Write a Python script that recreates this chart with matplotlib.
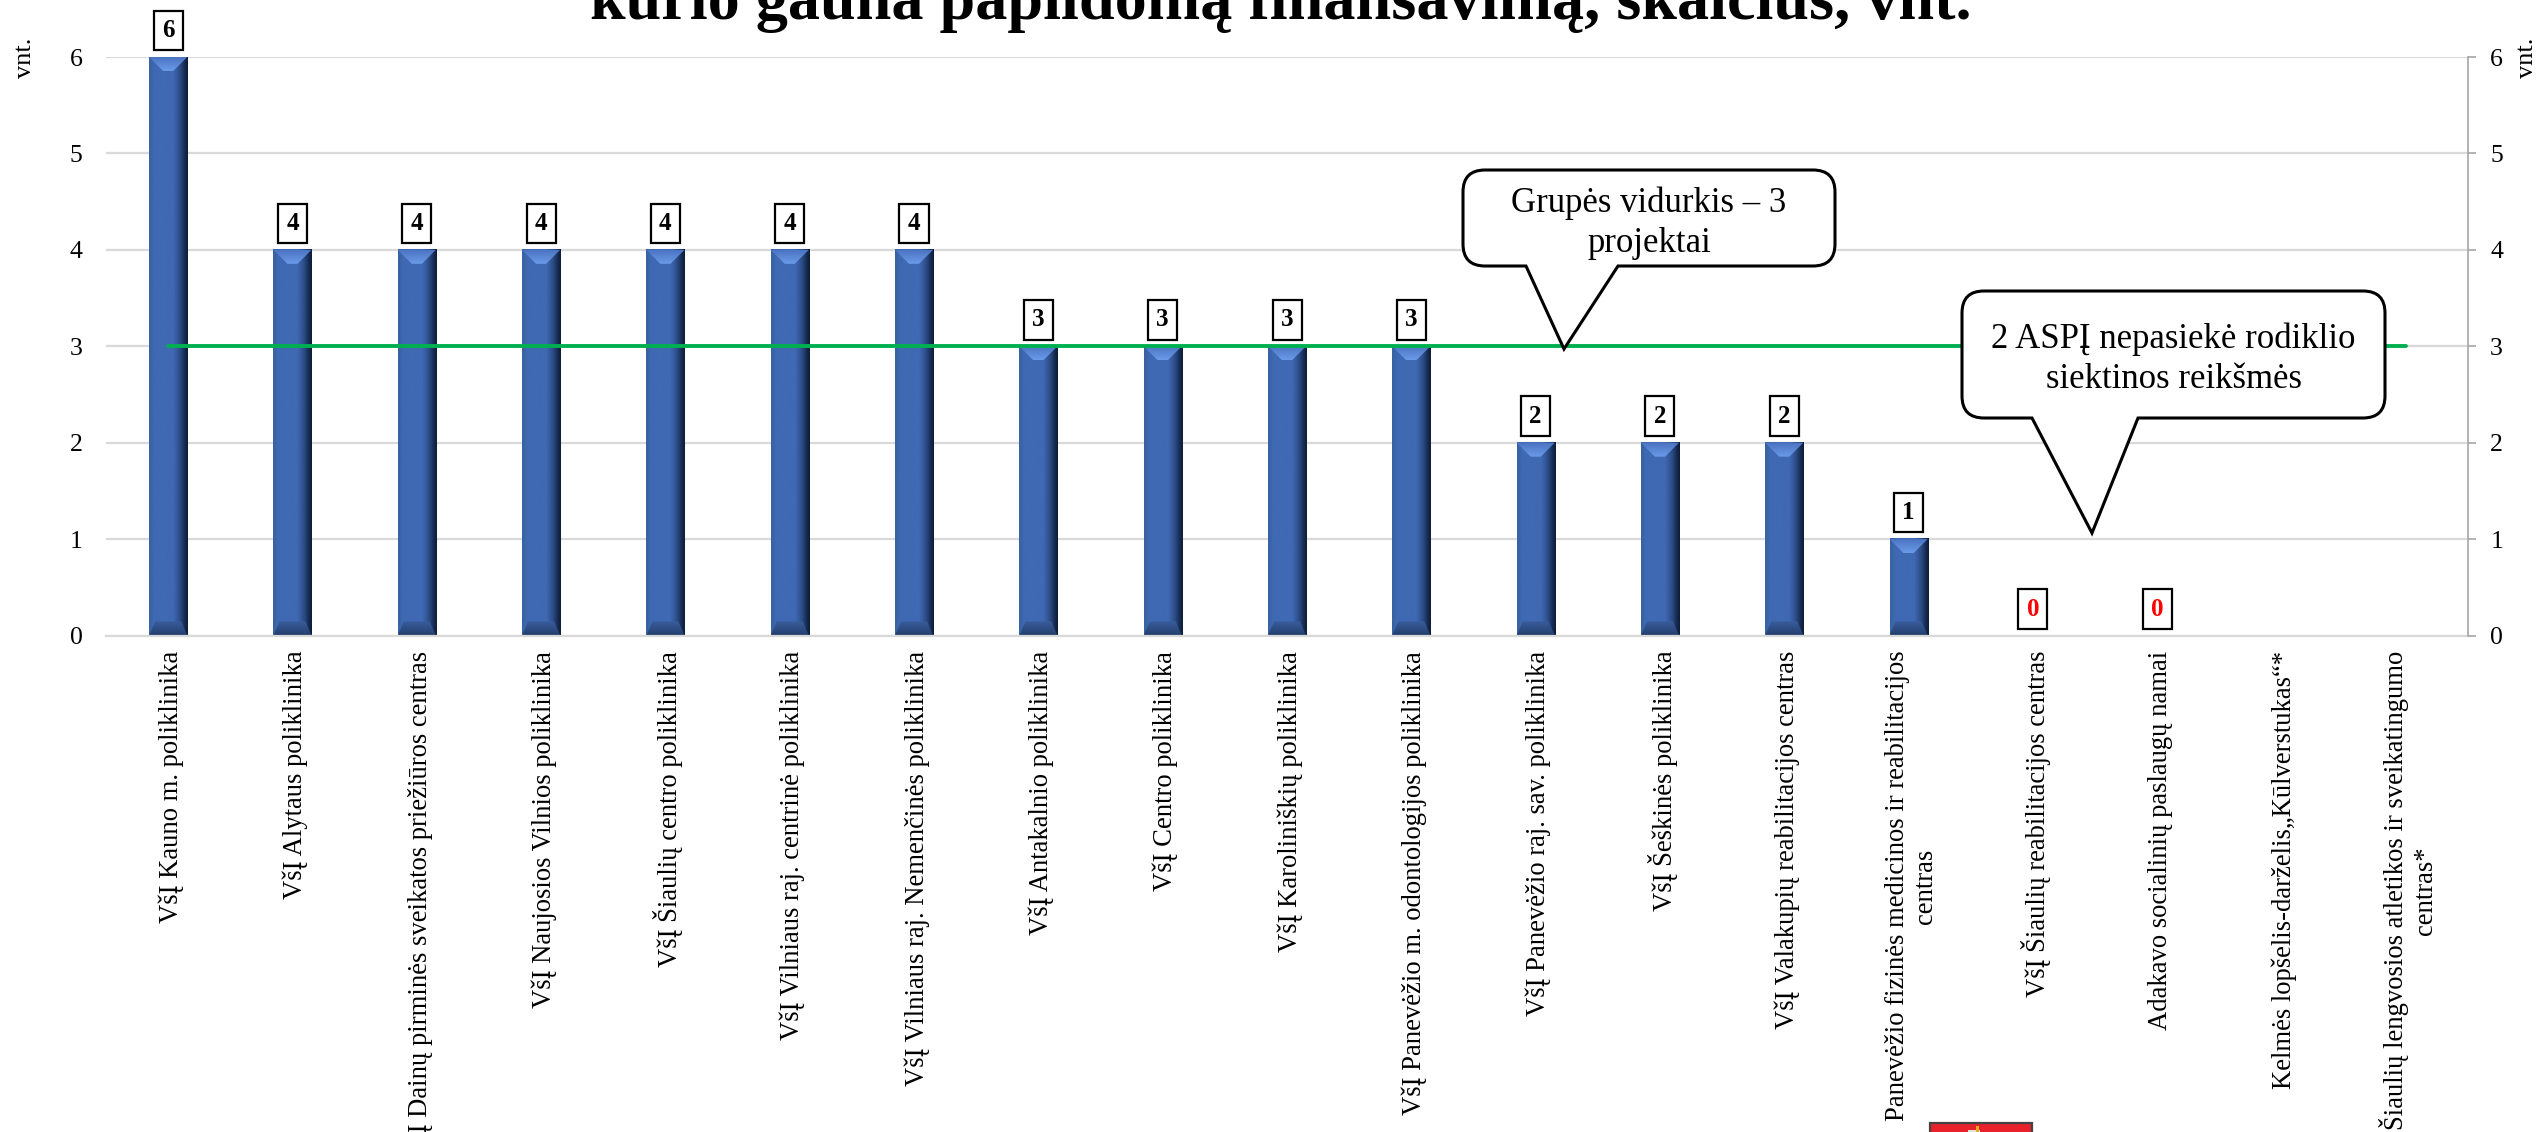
import matplotlib
matplotlib.use("Agg")
import matplotlib.pyplot as plt
import numpy as np
from matplotlib.colors import LinearSegmentedColormap
from matplotlib.path import Path
from matplotlib.patches import PathPatch, Polygon, Rectangle
from matplotlib.transforms import Affine2D, ScaledTranslation

plt.rcParams['font.family'] = ['Liberation Serif', 'DejaVu Serif']

W, H = 2542, 1132

# Data
categories = [
    "VšĮ Kauno m. poliklinika",
    "VšĮ Alytaus poliklinika",
    "VšĮ Dainų pirminės sveikatos priežiūros centras",
    "VšĮ Naujosios Vilnios poliklinika",
    "VšĮ Šiaulių centro poliklinika",
    "VšĮ Vilniaus raj. centrinė poliklinika",
    "VšĮ Vilniaus raj. Nemenčinės poliklinika",
    "VšĮ Antakalnio poliklinika",
    "VšĮ Centro poliklinika",
    "VšĮ Karoliniškių poliklinika",
    "VšĮ Panevėžio m. odontologijos poliklinika",
    "VšĮ Panevėžio raj. sav. poliklinika",
    "VšĮ Šeškinės poliklinika",
    "VšĮ Valakupių reabilitacijos centras",
    "Panevėžio fizinės medicinos ir reabilitacijos\ncentras",
    "VšĮ Šiaulių reabilitacijos centras",
    "Adakavo socialinių paslaugų namai",
    "Kelmės lopšelis-darželis„Kūlverstukas“*",
    "Šiaulių lengvosios atletikos ir sveikatingumo\ncentras*",
]
values = [6, 4, 4, 4, 4, 4, 4, 3, 3, 3, 3, 2, 2, 2, 1, 0, 0, None, None]
group_avg = [3] * len(categories)
y_ticks = [0, 1, 2, 3, 4, 5, 6]
title = "kurio gauna papildomą finansavimą, skaičius, vnt."
note_avg = "Grupės vidurkis – 3\nprojektai"
note_low = "2 ASPĮ nepasiekė rodiklio\nsiektinos reikšmės"

fig = plt.figure(figsize=(W / 100, H / 100), dpi=100)
ax = fig.add_axes([106 / W, 1 - 635.5 / H, (2468 - 106) / W, (635.5 - 57) / H])
px = Affine2D().scale(1, -1).translate(0, H)  # figure pixels, y from top

x = np.arange(len(categories))
ax.set_xlim(-0.5, len(categories) - 0.5)
ax.set_ylim(0, 6)
ax.set_axisbelow(True)
ax.yaxis.grid(True, color='#d9d9d9', lw=1.6)
ax.xaxis.grid(False)
for s in ['top', 'left', 'right']:
    ax.spines[s].set_visible(False)
ax.spines['bottom'].set_color('#d9d9d9')
ax.spines['bottom'].set_linewidth(1.6)

ax.set_yticks(y_ticks)
ax.tick_params(axis='y', length=0, labelsize=18.5, pad=17)
ax.set_xticks(x)
ax.set_xticklabels(categories, rotation=90, fontsize=19.2, ha='center', va='top',
                   multialignment='center')
ax.tick_params(axis='x', length=0, pad=11)
shift = ScaledTranslation(3 / 100, 0, fig.dpi_scale_trans)
for lab in ax.get_xticklabels():
    lab.set_transform(lab.get_transform() + shift)

# right axis
ax2 = ax.twinx()
ax2.set_ylim(0, 6)
ax2.set_yticks(y_ticks)
for s in ['top', 'left', 'bottom']:
    ax2.spines[s].set_visible(False)
ax2.spines['right'].set_color('#a6a6a6')
ax2.spines['right'].set_linewidth(1.2)
ax2.tick_params(axis='y', length=6, width=1.2, color='#a6a6a6', labelsize=18.5, pad=10)

# bars with bevel shading
shade = LinearSegmentedColormap.from_list('bar', [
    (0.0, '#38619f'), (0.12, '#3f69b3'), (0.62, '#4069b4'),
    (0.8, '#2d4d88'), (0.93, '#162a50'), (1.0, '#0e1c38')])
top_shade = LinearSegmentedColormap.from_list('top', ['#6a9ae8', '#4a72c0'])
bot_shade = LinearSegmentedColormap.from_list('bot', ['#24406f', '#3a5f9f'])
grad = np.linspace(0, 1, 64).reshape(1, -1)
vgrad = np.linspace(0, 1, 32).reshape(-1, 1)
bevel = 14 / 96.4
inset = 14 / 124.3
inset_bot = 6 / 124.3
xlim = ax.get_xlim()
bars = ax.bar(x, [v if v else 0 for v in values], width=0.306, color='#4069b4', zorder=2)
for b, v in zip(bars, values):
    if not v:
        continue
    l, w, h = b.get_x(), b.get_width(), b.get_height()
    r = l + w
    ax.imshow(grad, extent=(l, r, 0, h), cmap=shade, aspect='auto', zorder=2.1)
    # extent runs bottom to top, origin upper puts row 0 at the top edge
    im = ax.imshow(vgrad, extent=(l, r, h - bevel, h), cmap=top_shade.reversed(), aspect='auto', zorder=2.2)
    im.set_clip_path(Polygon([(l, h), (r, h), (r - inset, h - bevel), (l + inset, h - bevel)],
                             closed=True, transform=ax.transData))
    im = ax.imshow(vgrad, extent=(l, r, 0, bevel), cmap=bot_shade.reversed(), aspect='auto', zorder=2.2)
    im.set_clip_path(Polygon([(l, 0), (r, 0), (r - inset_bot, bevel), (l + inset_bot, bevel)],
                             closed=True, transform=ax.transData))
ax.set_xlim(xlim)
ax.set_ylim(0, 6)

ax.plot(x, group_avg, color='#00b050', lw=2.8, solid_capstyle='round', zorder=3)

# value labels
for xi, v in zip(x, values):
    if v is None:
        continue
    ax.annotate(str(v), (xi, v), xytext=(0, 26.5), textcoords='offset pixels',
                ha='center', va='center', fontsize=18, fontweight='bold',
                color='#ff0000' if v == 0 else 'black',
                bbox=dict(boxstyle='square,pad=0.33', fc='white', ec='black', lw=1.6), zorder=4)


def callout(box, base, tip, text, size):
    l, t, r, b = box
    c = 22
    verts = [(l + c, t), (r - c, t), (r, t), (r, t + c), (r, b - c), (r, b), (r - c, b),
             (base[1], b), tip, (base[0], b), (l + c, b), (l, b), (l, b - c), (l, t + c), (l, t), (l + c, t)]
    codes = [Path.MOVETO, Path.LINETO, Path.CURVE3, Path.CURVE3, Path.LINETO, Path.CURVE3, Path.CURVE3,
             Path.LINETO, Path.LINETO, Path.LINETO, Path.LINETO, Path.CURVE3, Path.CURVE3, Path.LINETO,
             Path.CURVE3, Path.CURVE3]
    fig.add_artist(PathPatch(Path(verts, codes), transform=px, fc='white', ec='black', lw=2.2, zorder=5))
    fig.text((l + r) / 2 / W, 1 - ((t + b) / 2 + 5) / H, text, ha='center', va='center', fontsize=size,
             linespacing=1.3, zorder=6)


callout((1463, 170, 1835, 266), (1526, 1618), (1564, 349), note_avg, 25)
callout((1962, 291, 2385, 418), (2032, 2138), (2092, 533), note_low, 25)

fig.text(25 / W, 1 - 58 / H, "vnt.", rotation=90, ha='center', va='center', fontsize=19)
fig.text(2527 / W, 1 - 58 / H, "vnt.", rotation=90, ha='center', va='center', fontsize=19)

fig.text(1281 / W, 1 - 19 / H, title, ha='center', va='baseline', fontsize=46.2, fontweight='bold')

# red badge cut by the lower edge
fig.add_artist(Rectangle((1930, 1123), 102, 14, transform=px, fc='#e8212b', ec='#444444', lw=1.6))
fig.add_artist(Rectangle((1968, 1130), 12, 4, transform=px, fc='#e6e0d8', ec='none', zorder=3))
fig.add_artist(Rectangle((1976, 1126), 2.5, 6, transform=px, fc='#e8b020', ec='none', zorder=3))

fig.savefig('out.png', dpi=100)
